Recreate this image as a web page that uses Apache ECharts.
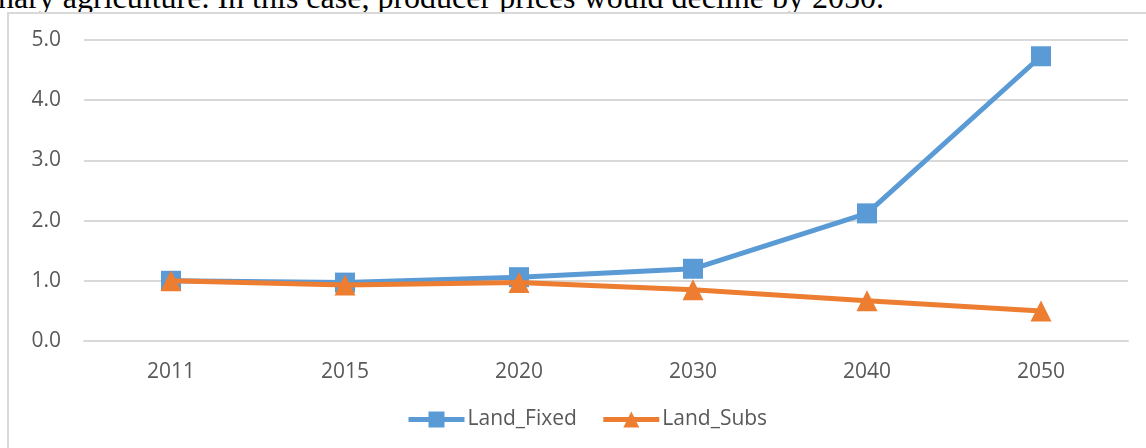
<!DOCTYPE html>
<html>
<head>
<meta charset="utf-8">
<script src="https://cdn.jsdelivr.net/npm/echarts@6/dist/echarts.min.js"></script>
<style>
  html, body { margin: 0; padding: 0; background: #fff; overflow: hidden; }
  #caption {
    position: absolute; left: -2px; top: -19px; white-space: nowrap;
    font-family: "Liberation Serif", "DejaVu Serif", serif; font-size: 32px; line-height: 32px; color: #000;
  }
  #frame {
    position: absolute; left: 7px; top: 12px; width: 1200px; height: 500px;
    border: 2px solid #d9d9d9; background: #fff;
  }
  #chart { position: absolute; left: 0; top: 0; width: 1146px; height: 448px; }
</style>
</head>
<body>
<div id="caption">nary agriculture. In this case, producer prices would decline by 2050.</div>
<div id="frame"></div>
<div id="chart"></div>
<script>
// 数据
const years = ['2011', '2015', '2020', '2030', '2040', '2050']
const landFixed = [1.0, 0.97, 1.06, 1.2, 2.12, 4.73]
const landSubs = [1.0, 0.93, 0.97, 0.85, 0.67, 0.5]

const labelColor = '#595959'
const gridColor = '#d9d9d9'
const font = 'Open Sans'

let myChart = echarts.init(document.getElementById('chart'))
let option = {
  animation: false,
  grid: {
    left: 84,
    right: 18,
    top: 40,
    bottom: 107
  },
  legend: {
    bottom: 13,
    left: 401,
    itemWidth: 56,
    itemHeight: 20,
    itemGap: 24,
    lineStyle: { width: 5 },
    textStyle: { color: labelColor, fontSize: 21, fontFamily: font, padding: [0, 0, 0, -2] },
    data: ['Land_Fixed', 'Land_Subs']
  },
  xAxis: {
    type: 'category',
    data: years,
    boundaryGap: true,
    axisTick: { show: false },
    axisLine: { lineStyle: { color: gridColor, width: 2 } },
    axisLabel: { color: labelColor, fontSize: 21, fontFamily: font, margin: 21 }
  },
  yAxis: {
    type: 'value',
    min: 0,
    max: 5,
    interval: 1,
    axisLine: { show: false },
    axisTick: { show: false },
    splitLine: { lineStyle: { color: gridColor, width: 2 } },
    axisLabel: {
      color: labelColor, fontSize: 21, fontFamily: font, margin: 23,
      formatter: (v) => v.toFixed(1)
    }
  },
  series: [{
    name: 'Land_Fixed',
    type: 'line',
    data: landFixed,
    symbol: 'rect',
    symbolSize: 20,
    lineStyle: { color: '#5B9BD5', width: 5 },
    itemStyle: { color: '#5B9BD5' },
    z: 2
  }, {
    name: 'Land_Subs',
    type: 'line',
    data: landSubs,
    symbol: 'triangle',
    symbolSize: 21,
    lineStyle: { color: '#ED7D31', width: 5 },
    itemStyle: { color: '#ED7D31' },
    z: 3
  }]
}
myChart.setOption(option)
</script>
</body>
</html>
